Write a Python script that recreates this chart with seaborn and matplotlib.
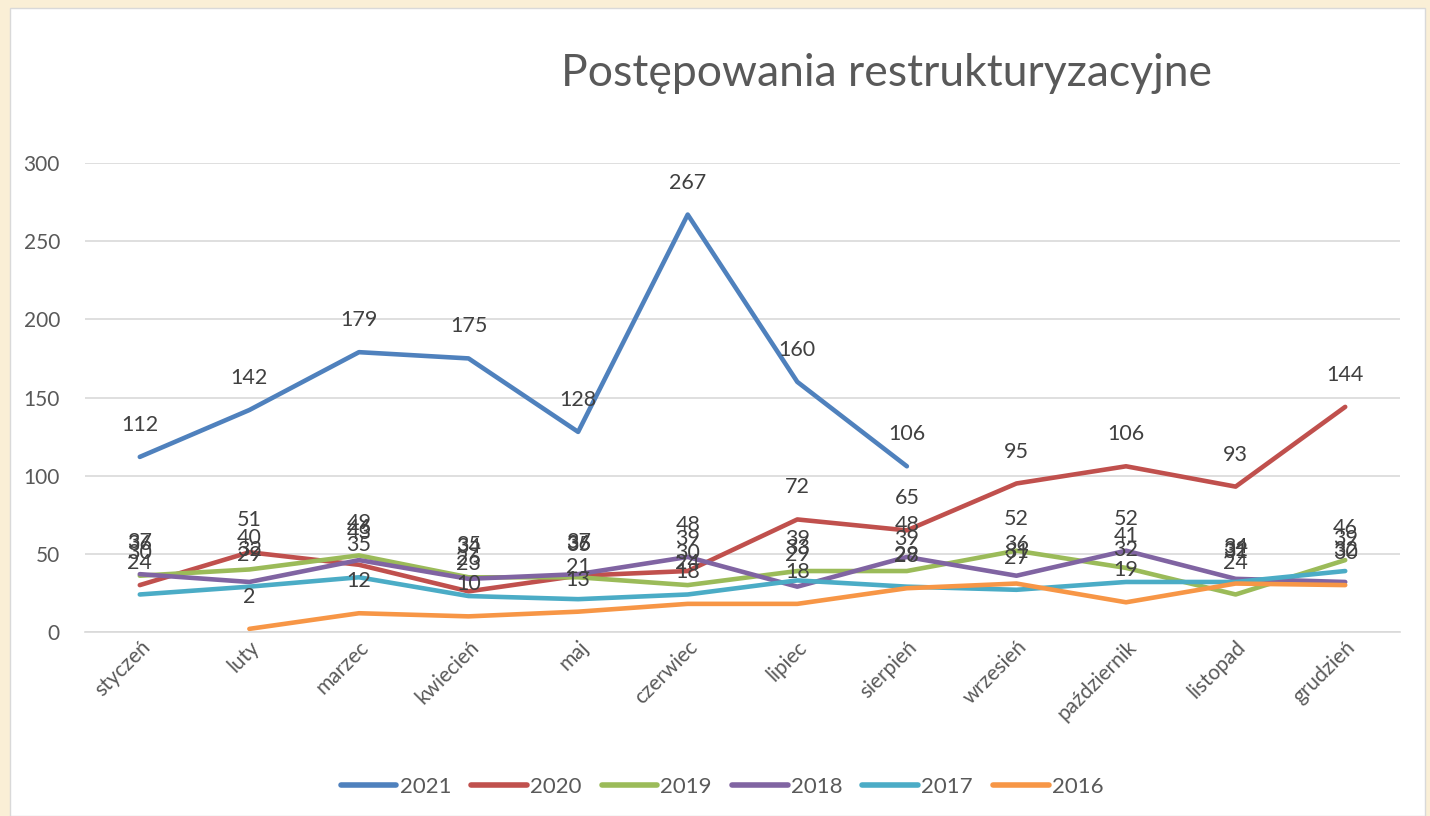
import numpy as np
import pandas as pd
import seaborn as sns
import matplotlib.pyplot as plt
from matplotlib.patches import Rectangle
from matplotlib.lines import Line2D

months = ['styczeń', 'luty', 'marzec', 'kwiecień', 'maj', 'czerwiec',
          'lipiec', 'sierpień', 'wrzesień', 'październik', 'listopad', 'grudzień']
years = ['2021', '2020', '2019', '2018', '2017', '2016']

v2021 = [112, 142, 179, 175, 128, 267, 160, 106, np.nan, np.nan, np.nan, np.nan]
v2020 = [30, 51, 43, 26, 36, 39, 72, 65, 95, 106, 93, 144]
v2019 = [36, 40, 49, 35, 35, 30, 39, 39, 52, 41, 24, 46]
v2018 = [37, 32, 46, 34, 37, 48, 29, 48, 36, 52, 34, 32]
v2017 = [24, 29, 35, 23, 21, 24, 33, 29, 27, 32, 32, 39]
v2016 = [np.nan, 2, 12, 10, 13, 18, 18, 28, 31, 19, 31, 30]

colors = ['#4F81BD', '#C0504D', '#9BBB59', '#8064A2', '#4BACC6', '#F79646']

series = dict(zip(years, [v2021, v2020, v2019, v2018, v2017, v2016]))
df = pd.concat([pd.DataFrame({'miesiac': months, 'wartosc': vals, 'rok': y})
                for y, vals in series.items()], ignore_index=True)

sns.set_style('white')
plt.rcParams['font.family'] = ['Lato', 'DejaVu Sans']

fig = plt.figure(figsize=(14.3, 8.16), dpi=100, facecolor='#FAEFD6')
# white chart panel (behind the axes)
fig.patches.append(Rectangle((10 / 1430, 0), 1415 / 1430, 1 - 8 / 816,
                             transform=fig.transFigure, facecolor='white',
                             edgecolor='#D9D9D9', linewidth=1, zorder=-5))
ax = fig.add_axes([85 / 1430, 1 - 632 / 816, 1315 / 1430, 469 / 816])
ax.set_facecolor('none')

sns.lineplot(data=df, x='miesiac', y='wartosc', hue='rok', hue_order=years,
             palette=colors, linewidth=3.3, sort=False, ax=ax, legend=False,
             solid_capstyle='round')

# data labels above each point
for y, vals in series.items():
    for i, v in enumerate(vals):
        if not np.isnan(v):
            ax.annotate(f'{int(v)}', (i, v), xytext=(0, 23), textcoords='offset points',
                        ha='center', va='center', fontsize=15.5, color='#404040',
                        annotation_clip=False)

ax.set_xlim(-0.5, 11.5)
ax.set_ylim(0, 300)
ax.set_yticks([0, 50, 100, 150, 200, 250, 300])
ax.grid(axis='y', color='#D9D9D9', linewidth=1.2)
ax.set_axisbelow(True)
for s in ['top', 'right', 'left']:
    ax.spines[s].set_visible(False)
ax.spines['bottom'].set_color('#D9D9D9')
ax.spines['bottom'].set_linewidth(1.2)
ax.tick_params(axis='both', length=0, labelsize=15, labelcolor='#595959')
ax.tick_params(axis='y', pad=18)
ax.set_xticks(range(len(months)))
ax.set_xticklabels(months, rotation=45, ha='right', rotation_mode='anchor')
ax.set_xlabel('')
ax.set_ylabel('')

fig.text(0.62, 1 - 73 / 816, 'Postępowania restrukturyzacyjne', ha='center', va='center',
         fontsize=32, color='#595959')

handles = [Line2D([], [], color=c, linewidth=4, solid_capstyle='round') for c in colors]
fig.legend(handles, years, loc='center', bbox_to_anchor=(0.505, 1 - 787 / 816), ncol=6,
           frameon=False, fontsize=16, handlelength=2.5, columnspacing=0.9,
           handletextpad=0.15, labelcolor='#595959')

fig.savefig('out.png', dpi=100, facecolor=fig.get_facecolor())
